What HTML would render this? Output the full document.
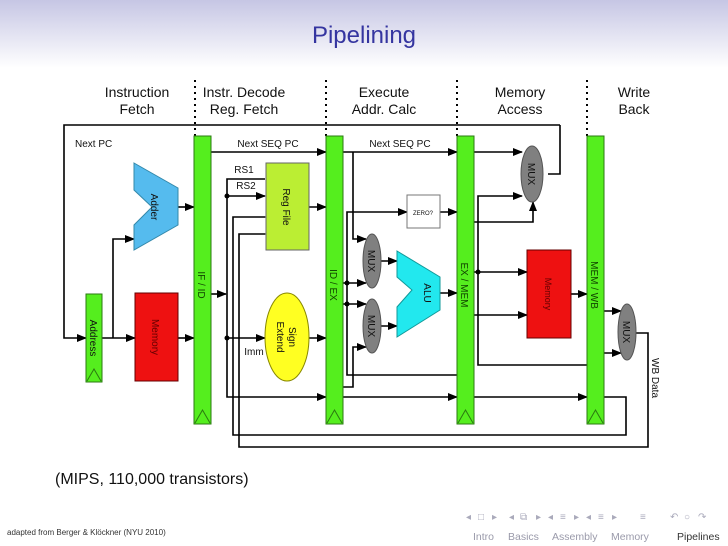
<!DOCTYPE html>
<html><head><meta charset="utf-8"><style>
html,body{margin:0;padding:0;background:#fff}
svg{display:block}
text{font-family:"Liberation Sans",sans-serif}
</style></head><body>
<svg width="728" height="546" viewBox="0 0 728 546" xmlns="http://www.w3.org/2000/svg">
<defs>
<linearGradient id="hg" x1="0" y1="0" x2="0" y2="1">
<stop offset="0" stop-color="#c6c6e4"/><stop offset="1" stop-color="#ffffff"/>
</linearGradient>
<marker id="a" markerWidth="10" markerHeight="8" refX="9" refY="4" orient="auto" markerUnits="userSpaceOnUse">
<path d="M0,0 L10,4 L0,8 z" fill="#000"/>
</marker>
</defs>
<rect x="0" y="0" width="728" height="68" fill="url(#hg)"/>
<text x="364" y="43" font-size="24" fill="#3535a0" text-anchor="middle">Pipelining</text>

<g font-size="14" text-anchor="middle" fill="#111">
<text x="137" y="97">Instruction</text><text x="137" y="114">Fetch</text>
<text x="244" y="97">Instr. Decode</text><text x="244" y="114">Reg. Fetch</text>
<text x="384" y="97">Execute</text><text x="384" y="114">Addr. Calc</text>
<text x="520" y="97">Memory</text><text x="520" y="114">Access</text>
<text x="634" y="97">Write</text><text x="634" y="114">Back</text>
</g>
<g stroke="#000" stroke-width="2" stroke-dasharray="2,4">
<line x1="195" y1="80" x2="195" y2="136"/><line x1="326" y1="80" x2="326" y2="136"/>
<line x1="457" y1="80" x2="457" y2="136"/><line x1="587" y1="80" x2="587" y2="136"/>
</g>

<g stroke="#000" stroke-width="1.6" fill="none">
<polyline points="560,125 64,125 64,338 86,338" marker-end="url(#a)"/>
<polyline points="548,174 560,174 560,125"/>
<line x1="102" y1="338" x2="135" y2="338" marker-end="url(#a)"/>
<polyline points="113,338 113,239 134,239" marker-end="url(#a)"/>
<line x1="178" y1="207" x2="194" y2="207" marker-end="url(#a)"/>
<line x1="178" y1="338" x2="194" y2="338" marker-end="url(#a)"/>
<line x1="211" y1="152" x2="326" y2="152" marker-end="url(#a)"/>
<line x1="211" y1="294" x2="226" y2="294" marker-end="url(#a)"/>
<polyline points="265,179 227,179 227,397 326,397" marker-end="url(#a)"/>
<line x1="227" y1="196" x2="265" y2="196" marker-end="url(#a)"/>
<polyline points="265,217 233,217 233,435 626,435 626,397 604,397" marker-start="url(#a)"/>
<polyline points="265,234 239,234 239,447 648,447 648,333 636,333" marker-start="url(#a)"/>
<line x1="227" y1="338" x2="265" y2="338" marker-end="url(#a)"/>
<line x1="309" y1="207" x2="326" y2="207" marker-end="url(#a)"/>
<line x1="309" y1="338" x2="326" y2="338" marker-end="url(#a)"/>
<line x1="343" y1="152" x2="457" y2="152" marker-end="url(#a)"/>
<polyline points="353,152 353,239 366,239" marker-end="url(#a)"/>
<polyline points="457,375 347,375 347,212 407,212" marker-end="url(#a)"/>
<line x1="343" y1="283" x2="366" y2="283" marker-end="url(#a)"/>
<line x1="343" y1="304" x2="366" y2="304" marker-end="url(#a)"/>
<polyline points="343,387 353,387 353,347 366,347" marker-end="url(#a)"/>
<line x1="380" y1="261" x2="397" y2="261" marker-end="url(#a)"/>
<line x1="380" y1="326" x2="397" y2="326" marker-end="url(#a)"/>
<line x1="440" y1="293" x2="457" y2="293" marker-end="url(#a)"/>
<line x1="440" y1="212" x2="457" y2="212" marker-end="url(#a)"/>
<line x1="343" y1="397" x2="457" y2="397" marker-end="url(#a)"/>
<line x1="474" y1="152" x2="522" y2="152" marker-end="url(#a)"/>
<polyline points="587,365 478,365 478,196 522,196" marker-end="url(#a)"/>
<polyline points="474,222 533,222 533,202" marker-end="url(#a)"/>
<line x1="474" y1="272" x2="527" y2="272" marker-end="url(#a)"/>
<line x1="474" y1="315" x2="527" y2="315" marker-end="url(#a)"/>
<line x1="571" y1="294" x2="587" y2="294" marker-end="url(#a)"/>
<line x1="474" y1="397" x2="587" y2="397" marker-end="url(#a)"/>
<line x1="604" y1="311" x2="621" y2="311" marker-end="url(#a)"/>
<line x1="604" y1="353" x2="621" y2="353" marker-end="url(#a)"/>
</g>
<g fill="#000">
<circle cx="227" cy="196" r="2.5"/><circle cx="227" cy="338" r="2.5"/>
<circle cx="347" cy="283" r="2.5"/><circle cx="347" cy="304" r="2.5"/>
<circle cx="478" cy="272" r="2.5"/>
</g>

<g stroke="#2a7a10" stroke-width="1" fill="#55ee1e">
<rect x="86" y="294" width="16" height="88"/>
<rect x="194" y="136" width="17" height="288"/>
<rect x="326" y="136" width="17" height="288"/>
<rect x="457" y="136" width="17" height="288"/>
<rect x="587" y="136" width="17" height="288"/>
</g>
<g stroke="#2a7a10" stroke-width="1" fill="none">
<path d="M87,381 L94,369 L101,381"/>
<path d="M195,423 L202.5,410 L210,423"/>
<path d="M327,423 L334.5,410 L342,423"/>
<path d="M458,423 L465.5,410 L473,423"/>
<path d="M588,423 L595.5,410 L603,423"/>
</g>

<rect x="135" y="293" width="43" height="88" fill="#ee1111" stroke="#600" stroke-width="1"/>
<rect x="527" y="250" width="44" height="88" fill="#ee1111" stroke="#600" stroke-width="1"/>
<polygon points="134,163 178,188 178,225 134,250 134,225 152,207 134,190" fill="#55bbee" stroke="#3388aa" stroke-width="1"/>
<polygon points="397,251 440,277 440,310 397,337 397,307 412,290 397,277" fill="#22e8ee" stroke="#119999" stroke-width="1"/>
<rect x="266" y="163" width="43" height="87" fill="#bbee33" stroke="#666" stroke-width="1"/>
<ellipse cx="287" cy="337" rx="22" ry="44" fill="#ffff22" stroke="#888800" stroke-width="1"/>
<rect x="407" y="195" width="33" height="33" fill="#fff" stroke="#777" stroke-width="1"/>
<g fill="#808080" stroke="#555" stroke-width="1">
<ellipse cx="372" cy="261" rx="9" ry="27"/>
<ellipse cx="372" cy="326" rx="9" ry="27"/>
<ellipse cx="532" cy="174" rx="11" ry="28"/>
<ellipse cx="627" cy="332" rx="9" ry="28"/>
</g>

<g font-size="10" fill="#111">
<text x="75" y="147">Next PC</text>
<text x="268" y="147" text-anchor="middle">Next SEQ PC</text>
<text x="400" y="147" text-anchor="middle">Next SEQ PC</text>
<text x="244" y="173" text-anchor="middle">RS1</text>
<text x="246" y="189" text-anchor="middle">RS2</text>
<text x="254" y="355" text-anchor="middle">Imm</text>
<text x="423" y="215" font-size="6" text-anchor="middle">ZERO?</text>
</g>
<g font-size="10" fill="#111" text-anchor="middle">
<text transform="translate(90,338) rotate(90)">Address</text>
<text transform="translate(152,337) rotate(90)" fill="#660000">Memory</text>
<text transform="translate(151,207) rotate(90)">Adder</text>
<text transform="translate(198,285) rotate(90)" fill="#114400">IF / ID</text>
<text transform="translate(283,207) rotate(90)">Reg File</text>
<text transform="translate(289,337) rotate(90)">Sign</text>
<text transform="translate(277,337) rotate(90)">Extend</text>
<text transform="translate(330,285) rotate(90)" fill="#114400">ID / EX</text>
<text transform="translate(368,261) rotate(90)">MUX</text>
<text transform="translate(368,326) rotate(90)">MUX</text>
<text transform="translate(424,293) rotate(90)">ALU</text>
<text transform="translate(461,285) rotate(90)" fill="#114400">EX / MEM</text>
<text transform="translate(528,174) rotate(90)">MUX</text>
<text transform="translate(545,294) rotate(90)" fill="#660000" font-size="9">Memory</text>
<text transform="translate(591,285) rotate(90)" fill="#114400">MEM / WB</text>
<text transform="translate(623,332) rotate(90)">MUX</text>
<text transform="translate(652,378) rotate(90)">WB Data</text>
</g>

<text x="55" y="484" font-size="16" fill="#111">(MIPS, 110,000 transistors)</text>

<text x="7" y="535" font-size="8" fill="#333">adapted from Berger &amp; Klöckner (NYU 2010)</text>
<text x="473" y="540" font-size="10.5" fill="#9a9aaa">Intro</text>
<text x="508" y="540" font-size="10.5" fill="#9a9aaa">Basics</text>
<text x="552" y="540" font-size="10.5" fill="#9a9aaa">Assembly</text>
<text x="611" y="540" font-size="10.5" fill="#9a9aaa">Memory</text>
<text x="677" y="540" font-size="10.5" fill="#333">Pipelines</text>
<g font-size="10" fill="#aaaabb">
<text x="466" y="520">◂</text><text x="478" y="520">□</text><text x="492" y="520">▸</text>
<text x="509" y="520">◂</text><text x="520" y="520">⧉</text><text x="536" y="520">▸</text>
<text x="548" y="520">◂</text><text x="560" y="520">≡</text><text x="574" y="520">▸</text>
<text x="586" y="520">◂</text><text x="598" y="520">≡</text><text x="612" y="520">▸</text>
<text x="640" y="520">≡</text>
<text x="670" y="520">↶</text><text x="684" y="520">○</text><text x="698" y="520">↷</text>
</g>
</svg>
</body></html>
